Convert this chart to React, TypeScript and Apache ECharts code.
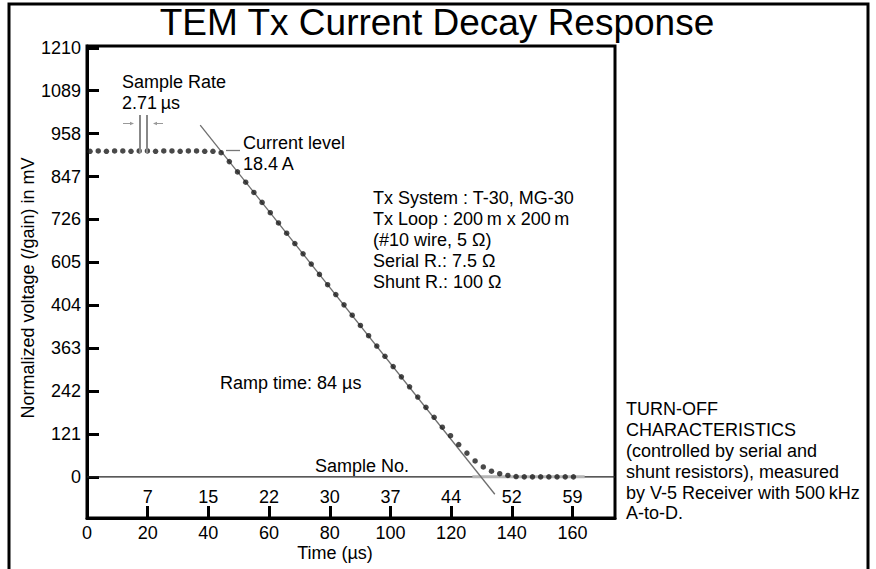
import React, { useEffect, useRef } from "react";
import * as echarts from "echarts";

// ---- data ----
const sampleTime = [
  1.0, 3.7, 6.4, 9.1, 11.8, 14.5, 17.2, 19.9, 22.6, 25.3,
  28.0, 30.7, 33.4, 36.1, 38.8, 41.5, 44.2, 46.9, 49.6, 52.3,
  55.0, 57.7, 60.4, 63.1, 65.8, 68.5, 71.2, 73.9, 76.6, 79.3,
  82.0, 84.7, 87.4, 90.1, 92.8, 95.5, 98.2, 100.9, 103.6, 106.3,
  109.0, 111.7, 114.4, 117.1, 119.8, 122.5, 125.2, 127.9, 130.6, 133.3,
  136.0, 138.7, 141.4, 144.1, 146.8, 149.5, 152.2, 154.9, 157.6, 160.3,
];
const sampleVoltage = [
  918, 919, 918, 919, 919, 918, 919, 919, 918, 919,
  919, 918, 919, 919, 918, 918, 914, 889, 860, 831,
  802, 774, 745, 716, 687, 658, 629, 600, 571, 542,
  514, 485, 456, 427, 398, 369, 340, 311, 282, 254,
  225, 196, 168, 140, 116, 91, 67, 45, 28, 16,
  9, 4, 1, 0, 0, 0, 0, 0, 0, 0,
];
const rampLineTime = [37.3, 134.4];
const rampLineVoltage = [992, -49];
const zeroLineTime = [0, 174];
const baselineBandTime = [127, 164];

const timeTicks = [0, 20, 40, 60, 80, 100, 120, 140, 160];
const sampleTickTimes = [20, 40, 60, 80, 100, 120, 140, 160];
const sampleNumbers = ["7", "15", "22", "30", "37", "44", "52", "59"];
const yTickValues = [0, 121, 242, 363, 484, 605, 726, 847, 968, 1089, 1210];
const yTickLabels = ["0", "121", "242", "363", "404", "605", "726", "847", "958", "1089", "1210"];

const FONT = "'Liberation Sans', Arial, Helvetica, sans-serif";

export default function App() {
  const ref = useRef<HTMLDivElement>(null);

  useEffect(() => {
    document.body.style.margin = "0";
    if (!ref.current) return;
    const chart = echarts.init(ref.current, undefined, { renderer: "svg" });

    const txt = (x: number, y: number, text: string, extra: any = {}) => ({
      type: "text",
      x,
      y,
      style: {
        text,
        fill: "#000",
        font: `18px ${FONT}`,
        textAlign: "left",
        textVerticalAlign: "middle",
        ...extra,
      },
      z: 10,
    });

    const tLabel = (v: number) => {
      const i = timeTicks.indexOf(Math.round(v));
      return i >= 0 ? String(timeTicks[i]) : "";
    };
    const sLabel = (v: number) => {
      const i = sampleTickTimes.indexOf(Math.round(v));
      return i >= 0 ? sampleNumbers[i] : "";
    };
    const yLabel = (v: number) => {
      const i = yTickValues.indexOf(Math.round(v));
      return i >= 0 ? yTickLabels[i] : "";
    };

    const option: any = {
      animation: false,
      backgroundColor: "#fff",
      textStyle: { fontFamily: FONT },
      grid: {
        left: 87,
        top: 46,
        width: 528,
        height: 472,
        show: true,
        borderColor: "#000",
        borderWidth: 3,
        containLabel: false,
      },
      xAxis: [
        {
          type: "value",
          min: 0,
          max: 174,
          position: "bottom",
          axisLine: { show: true, onZero: false, lineStyle: { color: "#000", width: 3 } },
          axisTick: {
            show: true,
            inside: true,
            length: 12,
            lineStyle: { color: "#000", width: 3 },
            customValues: sampleTickTimes,
          },
          axisLabel: {
            color: "#000",
            fontSize: 18,
            fontFamily: FONT,
            margin: 6,
            customValues: timeTicks,
            formatter: tLabel,
          },
          splitLine: { show: false },
        },
        {
          type: "value",
          min: 0,
          max: 174,
          position: "bottom",
          axisLine: { show: false, onZero: false },
          axisTick: { show: false },
          axisLabel: {
            inside: true,
            color: "#000",
            fontSize: 18,
            fontFamily: FONT,
            margin: 12,
            customValues: sampleTickTimes,
            formatter: sLabel,
          },
          splitLine: { show: false },
        },
      ],
      yAxis: {
        type: "value",
        min: -116,
        max: 1215,
        axisLine: { show: true, onZero: false, lineStyle: { color: "#000", width: 3 } },
        axisTick: {
          show: true,
          inside: true,
          length: 12,
          lineStyle: { color: "#000", width: 3 },
          customValues: yTickValues,
        },
        axisLabel: {
          color: "#000",
          fontSize: 18,
          fontFamily: FONT,
          margin: 6,
          customValues: yTickValues,
          formatter: yLabel,
        },
        splitLine: { show: false },
      },
      series: [
        {
          type: "line",
          data: zeroLineTime.map((t) => [t, 0]),
          symbol: "none",
          lineStyle: { color: "#222", width: 1.2 },
          z: 1,
          silent: true,
        },
        {
          type: "line",
          data: baselineBandTime.map((t) => [t, 0]),
          symbol: "none",
          lineStyle: { color: "#b5b5b5", width: 3 },
          z: 2,
          silent: true,
        },
        {
          type: "line",
          data: rampLineTime.map((t, i) => [t, rampLineVoltage[i]]),
          symbol: "none",
          lineStyle: { color: "#6e6e6e", width: 1.3 },
          z: 3,
          silent: true,
        },
        {
          type: "scatter",
          data: sampleTime.map((t, i) => [t, sampleVoltage[i]]),
          symbol: "circle",
          symbolSize: 5.5,
          itemStyle: { color: "#1c1c1c" },
          z: 4,
          silent: true,
        },
      ],
      graphic: [
        // outer frame
        {
          type: "rect",
          shape: { x: 9, y: 4, width: 859, height: 620 },
          style: { fill: "none", stroke: "#000", lineWidth: 3 },
          z: 0,
          silent: true,
        },
        // title
        {
          type: "text",
          x: 437,
          y: 22,
          style: {
            text: "TEM Tx Current Decay Response",
            fill: "#000",
            font: `37px ${FONT}`,
            textAlign: "center",
            textVerticalAlign: "middle",
          },
          z: 10,
        },
        // y axis name
        {
          type: "text",
          x: 28,
          y: 288,
          rotation: Math.PI / 2,
          style: {
            text: "Normalized voltage (/gain) in mV",
            fill: "#000",
            font: `18px ${FONT}`,
            textAlign: "center",
            textVerticalAlign: "middle",
          },
          z: 10,
        },
        // x axis name
        txt(335, 553, "Time (\u00b5s)", { textAlign: "center" }),
        // sample rate annotation
        txt(122, 82, "Sample Rate"),
        txt(122, 103, "2.71\u2009\u00b5s"),
        { type: "line", shape: { x1: 140, y1: 115, x2: 140, y2: 153 }, style: { stroke: "#888", lineWidth: 2 }, z: 9 },
        { type: "line", shape: { x1: 147, y1: 115, x2: 147, y2: 153 }, style: { stroke: "#888", lineWidth: 2 }, z: 9 },
        { type: "line", shape: { x1: 123, y1: 123.5, x2: 131, y2: 123.5 }, style: { stroke: "#999", lineWidth: 1 }, z: 9 },
        { type: "polygon", shape: { points: [[134, 123.5], [130, 121.7], [130, 125.3]] }, style: { fill: "#999" }, z: 9 },
        { type: "line", shape: { x1: 163, y1: 123.5, x2: 156, y2: 123.5 }, style: { stroke: "#999", lineWidth: 1 }, z: 9 },
        { type: "polygon", shape: { points: [[153, 123.5], [157, 121.7], [157, 125.3]] }, style: { fill: "#999" }, z: 9 },
        // current level
        { type: "line", shape: { x1: 226, y1: 150.5, x2: 240, y2: 150.5 }, style: { stroke: "#777", lineWidth: 1.3 }, z: 9 },
        txt(243, 143, "Current level"),
        txt(243, 164, "18.4\u2009A"),
        // system info
        txt(373, 198, "Tx System : T-30, MG-30"),
        txt(373, 219, "Tx Loop : 200\u2009m x 200\u2009m"),
        txt(373, 240, "(#10 wire, 5 \u03a9)"),
        txt(373, 261, "Serial R.: 7.5 \u03a9"),
        txt(373, 282, "Shunt R.: 100 \u03a9"),
        txt(220, 383, "Ramp time: 84 \u00b5s"),
        txt(315, 466, "Sample No."),
        // turn-off note
        txt(626, 409, "TURN-OFF"),
        txt(626, 430, "CHARACTERISTICS"),
        txt(626, 451, "(controlled by serial and"),
        txt(626, 472, "shunt resistors), measured"),
        txt(626, 493, "by V-5 Receiver with 500\u2009kHz"),
        txt(626, 513, "A-to-D."),
      ],
    };

    chart.setOption(option);
    return () => chart.dispose();
  }, []);

  return <div ref={ref} style={{ width: 876, height: 569 }} />;
}
